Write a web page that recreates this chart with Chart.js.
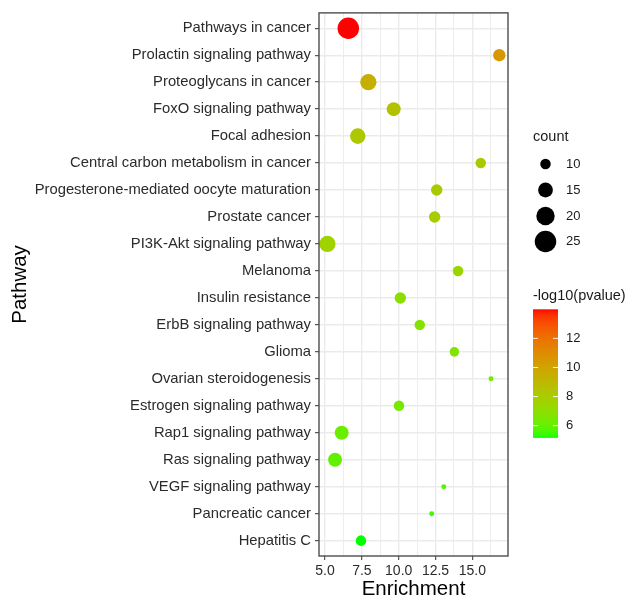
<!DOCTYPE html>
<html>
<head>
<meta charset="utf-8">
<script src="https://cdn.jsdelivr.net/npm/chart.js@4.4.0/dist/chart.umd.min.js"></script>
<style>
html, body { margin: 0; padding: 0; background: #fff; }
#wrap { width: 627px; height: 599px; }
</style>
</head>
<body>
<div id="wrap"><canvas id="chart" width="627" height="599"></canvas></div>
<script>
var pathways = [
    'Pathways in cancer', 'Prolactin signaling pathway', 'Proteoglycans in cancer',
    'FoxO signaling pathway', 'Focal adhesion', 'Central carbon metabolism in cancer',
    'Progesterone-mediated oocyte maturation', 'Prostate cancer', 'PI3K-Akt signaling pathway',
    'Melanoma', 'Insulin resistance', 'ErbB signaling pathway', 'Glioma',
    'Ovarian steroidogenesis', 'Estrogen signaling pathway', 'Rap1 signaling pathway',
    'Ras signaling pathway', 'VEGF signaling pathway', 'Pancreatic cancer', 'Hepatitis C'
];
var enrichment = [6.58, 16.83, 7.94, 9.66, 7.22, 15.57, 12.58, 12.44, 5.16, 14.03,
                  10.11, 11.43, 13.78, 16.27, 10.02, 6.13, 5.68, 13.06, 12.24, 7.44];
var counts = [25, 12, 17, 14, 16, 10, 11, 11, 17, 10,
              11, 10, 9, 5, 10, 14, 14, 5, 5, 10];
var logP = [14.0, 10.5, 9.4, 8.5, 8.2, 8.1, 8.0, 7.9, 7.7, 7.5,
            7.0, 6.8, 6.7, 6.4, 6.5, 6.2, 6.0, 5.8, 5.55, 5.2];
var xTicks = [5, 6.25, 7.5, 8.75, 10, 11.25, 12.5, 13.75, 15, 16.25];
var countBreaks = [10, 15, 20, 25];
var colorBreaks = [6, 8, 10, 12];

var lowColor = [0, 255, 0];
var highColor = [255, 0, 0];
var pMin = Math.min.apply(null, logP);
var pMax = Math.max.apply(null, logP);
var fontFamily = '"Liberation Sans", Arial, sans-serif';

function toLinear(c) {
    c = c / 255;
    return c <= 0.04045 ? c / 12.92 : Math.pow((c + 0.055) / 1.055, 2.4);
}
function fromLinear(c) {
    c = c <= 0.0031308 ? 12.92 * c : 1.055 * Math.pow(c, 1 / 2.4) - 0.055;
    return Math.round(Math.max(0, Math.min(1, c)) * 255);
}
function rgbToLab(rgb) {
    var r = toLinear(rgb[0]), g = toLinear(rgb[1]), b = toLinear(rgb[2]);
    var x = (r * 0.4124 + g * 0.3576 + b * 0.1805) / 0.95047;
    var y = r * 0.2126 + g * 0.7152 + b * 0.0722;
    var z = (r * 0.0193 + g * 0.1192 + b * 0.9505) / 1.08883;
    function f(t) { return t > 0.008856 ? Math.cbrt(t) : 7.787 * t + 16 / 116; }
    var fx = f(x), fy = f(y), fz = f(z);
    return [116 * fy - 16, 500 * (fx - fy), 200 * (fy - fz)];
}
function labToCss(lab) {
    var fy = (lab[0] + 16) / 116, fx = fy + lab[1] / 500, fz = fy - lab[2] / 200;
    function finv(t) { var t3 = t * t * t; return t3 > 0.008856 ? t3 : (t - 16 / 116) / 7.787; }
    var x = finv(fx) * 0.95047, y = finv(fy), z = finv(fz) * 1.08883;
    var r = 3.2406 * x - 1.5372 * y - 0.4986 * z;
    var g = -0.9689 * x + 1.8758 * y + 0.0415 * z;
    var b = 0.0557 * x - 0.2040 * y + 1.0570 * z;
    return 'rgb(' + fromLinear(r) + ',' + fromLinear(g) + ',' + fromLinear(b) + ')';
}
var lowLab = rgbToLab(lowColor);
var highLab = rgbToLab(highColor);
function colorFor(v) {
    var t = (v - pMin) / (pMax - pMin);
    t = Math.max(0, Math.min(1, t));
    return labToCss([
        lowLab[0] + (highLab[0] - lowLab[0]) * t,
        lowLab[1] + (highLab[1] - lowLab[1]) * t,
        lowLab[2] + (highLab[2] - lowLab[2]) * t
    ]);
}
function radiusFor(c) {
    return (-8.4 + 5.98 * Math.sqrt(c)) / 2;
}
function isMajor(v) {
    return Math.abs(v / 2.5 - Math.round(v / 2.5)) < 1e-6;
}

var points = [];
for (var i = 0; i < pathways.length; i++) {
    points.push({ x: enrichment[i], y: i, count: counts[i], p: logP[i] });
}

var legendPlugin = {
    id: 'ggLegend',
    afterDatasetsDraw: function(chart) {
        var ctx = chart.ctx;
        var area = chart.chartArea;
        ctx.save();
        // panel border
        ctx.strokeStyle = '#4d4d4d';
        ctx.lineWidth = 1.4;
        ctx.strokeRect(area.left, area.top, area.right - area.left, area.bottom - area.top);

        ctx.fillStyle = '#1a1a1a';
        ctx.font = '14.5px ' + fontFamily;
        ctx.textBaseline = 'middle';
        ctx.textAlign = 'left';
        ctx.fillText('count', 533, 137);

        var rowY = [164, 190, 216, 241.5];
        for (var i = 0; i < countBreaks.length; i++) {
            ctx.fillStyle = '#000';
            ctx.beginPath();
            ctx.arc(545.5, rowY[i], radiusFor(countBreaks[i]), 0, Math.PI * 2);
            ctx.fill();
            ctx.fillStyle = '#1a1a1a';
            ctx.font = '13px ' + fontFamily;
            ctx.fillText(String(countBreaks[i]), 566, rowY[i]);
        }

        // colour bar
        ctx.font = '14.5px ' + fontFamily;
        ctx.fillText('-log10(pvalue)', 533, 296);
        var barTop = 309.3, barBottom = 437.3, barLeft = 533, barRight = 558;
        var steps = 64;
        for (var s = 0; s < steps; s++) {
            var y0 = barBottom - (barBottom - barTop) * s / steps;
            var y1 = barBottom - (barBottom - barTop) * (s + 1) / steps;
            ctx.fillStyle = colorFor(pMin + (pMax - pMin) * (s + 0.5) / steps);
            ctx.fillRect(barLeft, y1, barRight - barLeft, y0 - y1 + 0.6);
        }
        ctx.strokeStyle = 'rgba(255,255,255,0.9)';
        ctx.lineWidth = 1;
        for (var k = 0; k < colorBreaks.length; k++) {
            var ty = barBottom - (colorBreaks[k] - pMin) / (pMax - pMin) * (barBottom - barTop);
            ctx.beginPath();
            ctx.moveTo(barLeft, ty); ctx.lineTo(barLeft + 5, ty);
            ctx.moveTo(barRight - 5, ty); ctx.lineTo(barRight, ty);
            ctx.stroke();
            ctx.fillStyle = '#1a1a1a';
            ctx.font = '13px ' + fontFamily;
            ctx.fillText(String(colorBreaks[k]), 566, ty);
        }
        ctx.restore();
    }
};

var ctx = document.getElementById('chart').getContext('2d');
var chart = new Chart(ctx, {
    type: 'scatter',
    data: {
        datasets: [{
            data: points,
            pointRadius: function(c) { return radiusFor(c.raw.count); },
            pointHoverRadius: function(c) { return radiusFor(c.raw.count); },
            pointBackgroundColor: function(c) { return colorFor(c.raw.p); },
            pointBorderWidth: 0,
            pointBorderColor: 'rgba(0,0,0,0)',
            clip: false
        }]
    },
    options: {
        responsive: false,
        animation: false,
        devicePixelRatio: 1,
        layout: { padding: { top: 12, right: 119, left: 0, bottom: 0 } },
        plugins: { legend: { display: false }, tooltip: { enabled: false } },
        scales: {
            x: {
                type: 'linear',
                min: 4.59,
                max: 17.42,
                afterBuildTicks: function(axis) {
                    axis.ticks = xTicks.map(function(v) { return { value: v }; });
                },
                afterFit: function(axis) { axis.height = 43; },
                ticks: {
                    autoSkip: false,
                    maxRotation: 0,
                    padding: 3,
                    color: '#2b2b2b',
                    font: { family: fontFamily, size: 14 },
                    callback: function(v) { return isMajor(v) ? v.toFixed(1) : ''; }
                },
                grid: {
                    color: '#ebebeb',
                    lineWidth: function(c) { return c.tick && isMajor(c.tick.value) ? 1.4 : 0.9; },
                    tickLength: 4,
                    tickColor: function(c) { return c.tick && isMajor(c.tick.value) ? '#333' : 'rgba(0,0,0,0)'; },
                    tickWidth: 1
                },
                border: { display: false },
                title: {
                    display: true,
                    text: 'Enrichment',
                    color: '#000',
                    font: { family: fontFamily, size: 20.5 },
                    padding: { top: 0, bottom: -3 }
                }
            },
            y: {
                type: 'linear',
                reverse: true,
                min: -0.57,
                max: 19.57,
                afterBuildTicks: function(axis) {
                    axis.ticks = pathways.map(function(n, i) { return { value: i }; });
                },
                afterFit: function(axis) { axis.width = 319; },
                ticks: {
                    autoSkip: false,
                    padding: 4,
                    color: '#2b2b2b',
                    font: { family: fontFamily, size: 14.8 },
                    callback: function(v) { return pathways[v]; }
                },
                grid: {
                    color: '#ebebeb',
                    lineWidth: 1.4,
                    tickLength: 4,
                    tickColor: '#333',
                    tickWidth: 1
                },
                border: { display: false },
                title: {
                    display: true,
                    text: 'Pathway',
                    color: '#000',
                    font: { family: fontFamily, size: 20.5 },
                    padding: { top: 8, bottom: 0 }
                }
            }
        }
    },
    plugins: [legendPlugin]
});
</script>
</body>
</html>
